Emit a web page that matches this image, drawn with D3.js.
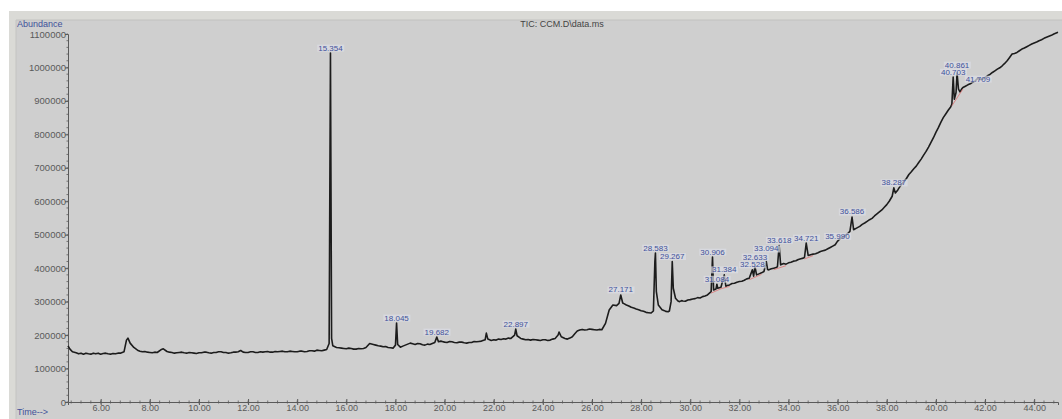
<!DOCTYPE html>
<html>
<head>
<meta charset="utf-8">
<script src="https://cdn.jsdelivr.net/npm/d3@7"></script>
<style>
  html, body { margin: 0; padding: 0; background: #ffffff; }
  svg { display: block; }
  text { font-family: "Liberation Sans", Arial, sans-serif; }
</style>
</head>
<body>
<svg id="chart" width="1062" height="419"></svg>
<script>
// ---------------- DATA ----------------
const chartTitle = "TIC: CCM.D\\data.ms";
const yAxisTitle = "Abundance";
const xAxisTitle = "Time-->";

// Tick labels
const yTickValues = [0, 100000, 200000, 300000, 400000, 500000, 600000, 700000, 800000, 900000, 1000000, 1100000];
const xTickValues = [6, 8, 10, 12, 14, 16, 18, 20, 22, 24, 26, 28, 30, 32, 34, 36, 38, 40, 42, 44];

// Total ion chromatogram: [retention time (min), abundance (thousands)]
const ticTrace = [
  [4.67,168],[4.75,158],[4.85,150],[5.0,147],[5.1,144],[5.2,146],[5.3,143],[5.4,146],[5.5,144],[5.6,143],
  [5.7,146],[5.8,144],[5.9,146],[6.0,143],[6.1,145],[6.2,146],[6.3,144],[6.4,143],[6.5,145],[6.6,144],
  [6.7,146],[6.8,146],[6.95,150],[7.05,185],[7.11,191],[7.2,176],[7.35,163],[7.5,155],[7.6,152],
  [7.7,150],[7.8,151],[7.9,149],[8.0,148],[8.1,147],[8.2,149],[8.3,148],[8.45,156],[8.55,159],[8.7,151],
  [8.8,149],[8.9,148],[9.0,146],[9.1,147],[9.2,148],[9.3,149],[9.4,147],[9.5,146],[9.6,148],[9.7,147],
  [9.8,146],[9.9,145],[10.0,147],[10.1,147],[10.2,149],[10.3,149],[10.4,147],[10.5,146],[10.6,148],
  [10.7,148],[10.8,150],[10.9,150],[11.0,148],[11.1,148],[11.2,146],[11.3,147],[11.4,149],[11.5,149],
  [11.6,150],[11.7,154],[11.8,149],[11.9,148],[12.0,148],[12.1,150],[12.2,150],[12.3,148],[12.4,148],
  [12.5,150],[12.6,149],[12.7,150],[12.8,151],[12.9,149],[13.0,149],[13.1,151],[13.2,150],[13.3,151],
  [13.4,152],[13.5,150],[13.6,150],[13.7,152],[13.8,151],[13.9,150],[14.0,150],[14.1,152],[14.2,152],
  [14.3,150],[14.4,151],[14.5,153],[14.6,153],[14.7,152],[14.8,155],[14.9,154],[15.0,153],[15.1,155],
  [15.2,157],[15.30,175],[15.354,1043],[15.40,190],[15.45,168],[15.6,163],[15.7,162],[15.8,161],
  [15.9,160],[16.0,159],[16.1,161],[16.2,160],[16.3,158],[16.4,158],[16.5,160],[16.6,159],[16.7,160],
  [16.8,163],[16.95,175],[17.1,172],[17.2,170],[17.3,168],[17.4,167],[17.5,165],[17.6,166],[17.7,163],
  [17.8,162],[17.9,161],[18.0,170],[18.045,236],[18.09,172],[18.2,164],[18.3,167],[18.4,170],[18.5,173],
  [18.6,176],[18.7,174],[18.8,172],[18.9,175],[19.0,174],[19.1,171],[19.2,170],[19.3,173],[19.4,172],
  [19.5,175],[19.6,178],[19.682,194],[19.75,180],[19.85,182],[19.9,181],[20.0,179],[20.1,178],[20.2,181],
  [20.3,180],[20.4,178],[20.5,177],[20.6,179],[20.7,179],[20.8,177],[20.9,176],[21.0,178],[21.1,178],
  [21.2,181],[21.3,180],[21.4,181],[21.5,182],[21.65,186],[21.7,206],[21.76,188],[21.9,184],[22.0,186],
  [22.1,185],[22.2,188],[22.3,187],[22.4,189],[22.5,188],[22.6,191],[22.7,190],[22.85,200],[22.897,218],
  [22.95,198],[23.1,190],[23.2,188],[23.3,186],[23.4,187],[23.5,185],[23.6,187],[23.7,186],[23.8,185],
  [23.9,184],[24.0,186],[24.1,186],[24.2,184],[24.3,185],[24.4,188],[24.5,190],[24.62,200],[24.66,209],
  [24.75,195],[24.9,190],[25.0,188],[25.1,191],[25.2,195],[25.3,204],[25.4,212],[25.5,215],[25.6,217],
  [25.7,215],[25.8,216],[25.9,218],[26.0,217],[26.1,216],[26.2,215],[26.3,217],[26.4,216],[26.55,235],
  [26.7,275],[26.85,290],[27.0,288],[27.1,295],[27.171,320],[27.25,296],[27.3,294],[27.4,290],
  [27.5,287],[27.6,283],[27.7,281],[27.8,278],[27.9,276],[28.0,273],[28.1,271],[28.2,268],[28.3,267],
  [28.4,266],[28.5,272],[28.56,420],[28.583,445],[28.62,330],[28.7,290],[28.85,276],[28.95,273],
  [29.0,271],[29.1,270],[29.15,272],[29.22,300],[29.267,420],[29.31,340],[29.4,310],[29.5,302],
  [29.55,300],[29.65,303],[29.7,302],[29.8,301],[29.9,305],[30.0,306],[30.1,308],[30.2,309],[30.3,312],
  [30.4,311],[30.5,315],[30.6,317],[30.7,320],[30.85,330],[30.906,433],[30.95,335],[31.05,338],
  [31.084,352],[31.12,340],[31.25,343],[31.384,380],[31.45,346],[31.5,348],[31.6,350],[31.7,354],
  [31.8,355],[31.9,358],[32.0,360],[32.1,361],[32.2,364],[32.3,368],[32.4,370],[32.528,395],[32.58,376],
  [32.633,405],[32.7,380],[32.8,383],[32.9,386],[33.0,390],[33.094,420],[33.15,396],[33.2,395],
  [33.3,398],[33.4,400],[33.5,402],[33.55,405],[33.618,468],[33.68,410],[33.8,414],[33.9,412],
  [34.0,416],[34.1,418],[34.2,421],[34.3,422],[34.4,426],[34.5,428],[34.6,430],[34.65,432],[34.721,475],
  [34.8,438],[34.9,440],[35.0,442],[35.1,443],[35.2,446],[35.3,450],[35.4,452],[35.5,454],[35.6,458],
  [35.7,462],[35.8,466],[35.9,470],[35.990,480],[36.1,488],[36.2,492],[36.3,498],[36.4,503],[36.5,510],
  [36.586,553],[36.65,515],[36.75,519],[36.9,525],[37.0,531],[37.1,535],[37.2,540],[37.3,545],
  [37.4,549],[37.5,556],[37.6,562],[37.7,568],[37.8,574],[37.9,582],[38.0,590],[38.1,600],[38.22,615],
  [38.287,640],[38.35,625],[38.45,634],[38.5,640],[38.6,650],[38.7,660],[38.8,668],[38.9,680],
  [39.0,688],[39.1,697],[39.2,705],[39.3,716],[39.4,726],[39.5,738],[39.6,749],[39.7,762],[39.8,776],
  [39.9,790],[40.0,806],[40.1,820],[40.2,836],[40.3,850],[40.4,861],[40.5,872],[40.6,882],[40.65,890],
  [40.703,971],[40.75,905],[40.82,925],[40.861,983],[40.92,935],[40.98,927],[41.05,936],[41.1,940],
  [41.2,944],[41.3,948],[41.4,951],[41.5,956],[41.6,960],[41.709,968],[41.8,964],[41.9,965],[42.0,970],
  [42.1,975],[42.2,979],[42.3,985],[42.4,990],[42.5,995],[42.6,999],[42.7,1005],[42.8,1012],[42.9,1020],
  [43.0,1030],[43.1,1040],[43.2,1042],[43.3,1045],[43.4,1050],[43.5,1055],[43.6,1058],[43.7,1062],
  [43.8,1066],[43.9,1070],[44.0,1073],[44.1,1076],[44.2,1080],[44.3,1083],[44.4,1087],[44.5,1090],
  [44.6,1093],[44.7,1096],[44.8,1100],[44.97,1105]
];

// Labelled peaks (retention times, min)
const peakLabels = ["15.354","18.045","19.682","22.897","27.171","28.583","29.267","30.906",
  "31.084","31.384","32.528","32.633","33.094","33.618","34.721","35.990","36.586","38.287",
  "40.703","40.861","41.709"];

// Integration baselines (start, end retention time, min)
const integrationSegments = [[30.85,31.25],[31.25,31.6],[32.4,32.9],[33.4,33.9],[34.65,35.0],[40.65,41.1]];

// ---------------- DRAW ----------------
const W = 1062, H = 419;
const svg = d3.select("#chart");

// frame / background
svg.append("rect").attr("x", 0).attr("y", 0).attr("width", W).attr("height", H).attr("fill", "#ffffff");
svg.append("rect").attr("x", 9).attr("y", 11).attr("width", W - 9).attr("height", H - 11).attr("fill", "#dadad6");
svg.append("rect").attr("x", 16).attr("y", 20).attr("width", W - 16).attr("height", H - 20).attr("fill", "#cfcfcf");
svg.append("line").attr("x1", 16).attr("x2", W).attr("y1", 20).attr("y2", 20).attr("stroke", "#c2c2c0");
svg.append("line").attr("x1", 16).attr("x2", 16).attr("y1", 20).attr("y2", H).attr("stroke", "#c4c4c2");

const x = d3.scaleLinear().domain([4.67, 44.97]).range([68, 1058]);
const y = d3.scaleLinear().domain([0, 1100000]).range([402, 34]);

const axisColor = "#5a5a5a";
const labelColor = "#5a5a5a";
const blue = "#41519a";

// Y axis
const yAxis = d3.axisLeft(y).tickValues(yTickValues).tickSize(3).tickFormat(d3.format("d"));
const gy = svg.append("g").attr("transform", "translate(68,0)").call(yAxis);
gy.select(".domain").attr("stroke", axisColor);
gy.selectAll(".tick line").attr("stroke", axisColor);
gy.selectAll(".tick text").attr("fill", labelColor).attr("font-size", "9.5px")
  .attr("font-family", "Liberation Sans, Arial, sans-serif").attr("x", -2);
// minor y ticks
const yMinor = d3.range(0, 1100001, 20000);
svg.append("g").selectAll("line").data(yMinor).join("line")
  .attr("x1", 66.5).attr("x2", 68).attr("y1", d => y(d)).attr("y2", d => y(d))
  .attr("stroke", axisColor).attr("stroke-width", 0.8);

// X axis
const xAxis = d3.axisBottom(x).tickValues(xTickValues).tickSize(3).tickFormat(d3.format(".2f"));
const gx = svg.append("g").attr("transform", "translate(0,402)").call(xAxis);
gx.select(".domain").attr("stroke", axisColor);
gx.selectAll(".tick line").attr("stroke", axisColor).attr("y1", -3);
gx.selectAll(".tick text").attr("fill", labelColor).attr("font-size", "9px")
  .attr("font-family", "Liberation Sans, Arial, sans-serif").attr("dy", "0.55em").attr("y", 4);
// minor x ticks
const xMinor = d3.range(4.8, 44.9, 0.4);
svg.append("g").selectAll("line").data(xMinor).join("line")
  .attr("x1", d => x(d)).attr("x2", d => x(d)).attr("y1", 400.5).attr("y2", 403.5)
  .attr("stroke", axisColor).attr("stroke-width", 0.8);

// Titles
svg.append("text").attr("x", 17).attr("y", 27).attr("font-size", "9px").attr("fill", blue).text(yAxisTitle);
svg.append("text").attr("x", 17).attr("y", 415).attr("font-size", "9px").attr("fill", blue).text(xAxisTitle);
svg.append("text").attr("x", 562).attr("y", 27).attr("text-anchor", "middle").attr("font-size", "9px")
  .attr("fill", "#444").text(chartTitle);

// Trace
const line = d3.line().x(d => x(d[0])).y(d => y(d[1] * 1000));
svg.append("path").datum(ticTrace).attr("d", line)
  .attr("fill", "none").attr("stroke", "#1c1c1c").attr("stroke-width", 1.6)
  .attr("stroke-linejoin", "round");

// lookup of trace value at a given time (nearest point)
const bis = d3.bisector(d => d[0]).center;
const valAt = t => ticTrace[bis(ticTrace, t)][1] * 1000;

// Integration baselines
svg.append("g").selectAll("line").data(integrationSegments).join("line")
  .attr("x1", d => x(d[0])).attr("x2", d => x(d[1]))
  .attr("y1", d => y(valAt(d[0])) + 1.5).attr("y2", d => y(valAt(d[1])) + 1.5)
  .attr("stroke", "#e06a6a").attr("stroke-width", 0.9).attr("opacity", 0.8);

// Peak labels with collision avoidance (smallest vertical nudge)
const lg = svg.append("g");
const placed = [];
const overlaps = (a, b) => a.x < b.x + b.w && b.x < a.x + a.w && a.y < b.y + b.h && b.y < a.y + a.h;
const offsets = [0];
for (let k = 1; k <= 14; k++) { offsets.push(k * 1.5, -k * 1.5); }
peakLabels.forEach(lbl => {
  const t = +lbl;
  const cx = x(t);
  const baseY = y(valAt(t)) - 2.5;
  const txt = lg.append("text").attr("x", cx).attr("y", baseY).attr("text-anchor", "middle")
    .attr("font-size", "8px").attr("fill", blue).text(lbl);
  const bb0 = txt.node().getBBox();
  const boxAt = yy => ({x: bb0.x - 0.5, y: yy - 6.5, w: bb0.width + 1, h: 7});
  let chosen = baseY;
  for (const o of offsets) {
    const b = boxAt(baseY + o);
    if (!placed.some(p => overlaps(p, b))) { chosen = baseY + o; break; }
  }
  txt.attr("y", chosen);
  placed.push(boxAt(chosen));
  const bb = txt.node().getBBox();
  lg.insert("rect", "text").attr("x", bb.x - 1).attr("y", bb.y + 1).attr("width", bb.width + 2)
    .attr("height", bb.height - 2).attr("fill", "#dcdde6").attr("opacity", 0.7);
});
</script>
</body>
</html>
